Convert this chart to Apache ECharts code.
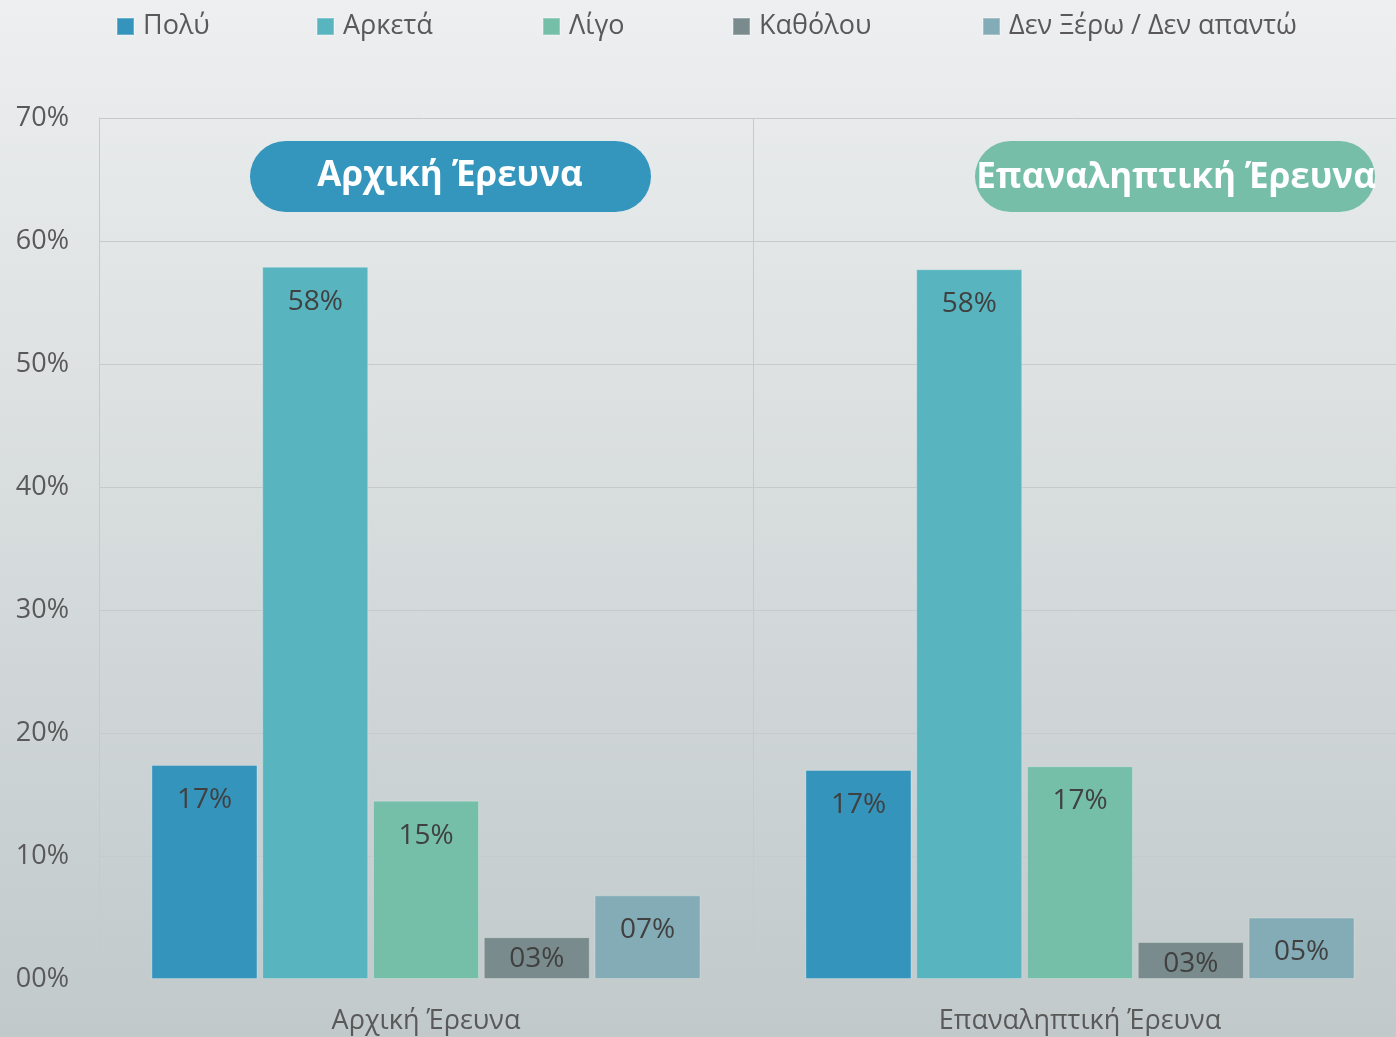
<!DOCTYPE html>
<html>
<head>
<meta charset="utf-8">
<script src="https://cdn.jsdelivr.net/npm/echarts@6/dist/echarts.min.js"></script>
<style>
  html, body { margin: 0; padding: 0; }
  #chart { width: 1396px; height: 1037px; }
</style>
</head>
<body>
<div id="chart"></div>
<script>
// data
var surveys = ['Αρχική Έρευνα', 'Επαναληπτική Έρευνα'];
var answers = ['Πολύ', 'Αρκετά', 'Λίγο', 'Καθόλου', 'Δεν Ξέρω / Δεν απαντώ'];
var poly = [17.4, 17.0];
var arketa = [57.9, 57.7];
var ligo = [14.5, 17.3];
var katholou = [3.4, 3.0];
var denXero = [6.8, 5.0];
var yTicks = [0, 10, 20, 30, 40, 50, 60, 70];

var values = [poly, arketa, ligo, katholou, denXero];
var colors = ['#3594bc', '#58b5bf', '#75bea7', '#798b8c', '#84acb6'];
var legendLeft = [111, 311, 537, 727, 977];
var font = '"Open Sans", "Noto Sans", sans-serif';

function pad2(v) {
  var n = Math.round(v);
  return (n < 10 ? '0' : '') + n + '%';
}

var chart = echarts.init(document.getElementById('chart'));

var series = answers.map(function (name, i) {
  return {
    name: name,
    type: 'bar',
    barWidth: 106,
    barGap: '4.5%',
    itemStyle: { color: colors[i], borderColor: 'rgba(255,255,255,0.25)', borderWidth: 1 },
    label: {
      show: true,
      position: 'insideTop',
      distance: 21,
      color: '#404040',
      fontFamily: font,
      fontSize: 28,
      formatter: function (p) { return pad2(p.value); }
    },
    data: values[i].map(function (v) {
      if (v < 4) {
        return { value: v, label: { distance: 8 } };
      }
      return v;
    })
  };
});

var option = {
  backgroundColor: {
    type: 'linear', x: 0, y: 0, x2: 0, y2: 1,
    colorStops: [
      { offset: 0, color: '#edeff0' },
      { offset: 1, color: '#c1c9ca' }
    ]
  },
  animation: false,
  textStyle: { fontFamily: font },
  legend: answers.map(function (name, i) {
    return {
      data: [name],
      left: legendLeft[i],
      top: 8,
      itemWidth: 17,
      itemHeight: 17,
      itemGap: 0,
      icon: 'rect',
      textStyle: { color: '#595959', fontSize: 27, fontFamily: font, padding: [0, 0, 0, 4] },
      selectedMode: false
    };
  }),
  grid: { left: 99, top: 118, width: 1308, height: 861, outerBoundsMode: 'none' },
  xAxis: {
    type: 'category',
    data: surveys,
    axisLine: { show: true, lineStyle: { color: '#c6cacb' } },
    axisTick: { show: false },
    splitLine: { show: true, lineStyle: { color: '#c6cacb' } },
    axisLabel: { color: '#595959', fontSize: 27, fontFamily: font, margin: 29 }
  },
  yAxis: {
    type: 'value',
    min: yTicks[0],
    max: yTicks[yTicks.length - 1],
    interval: 10,
    axisLine: { show: true, lineStyle: { color: '#c6cacb' } },
    axisTick: { show: false },
    splitLine: { lineStyle: { color: '#c6cacb' } },
    axisLabel: {
      color: '#595959', fontSize: 27, fontFamily: font, margin: 30,
      padding: [5, 0, 0, 0],
      formatter: function (v) { return pad2(v); }
    }
  },
  graphic: [
    {
      type: 'group',
      x: 250,
      y: 141,
      children: [
        { type: 'rect', shape: { x: 0, y: 0, width: 401, height: 71, r: 35.5 }, style: { fill: '#3596bd' } },
        { type: 'text', x: 200, y: 35, style: { text: surveys[0], fill: '#ffffff', font: 'bold 35px ' + font, textAlign: 'center', textVerticalAlign: 'middle' } }
      ]
    },
    {
      type: 'group',
      x: 975,
      y: 141,
      children: [
        { type: 'rect', shape: { x: 0, y: 0, width: 400, height: 71, r: 35.5 }, style: { fill: '#76bea8' } },
        { type: 'text', x: 201, y: 37, style: { text: surveys[1], fill: '#ffffff', font: 'bold 35px ' + font, textAlign: 'center', textVerticalAlign: 'middle' } }
      ]
    }
  ],
  series: series
};

chart.setOption(option);
</script>
</body>
</html>
